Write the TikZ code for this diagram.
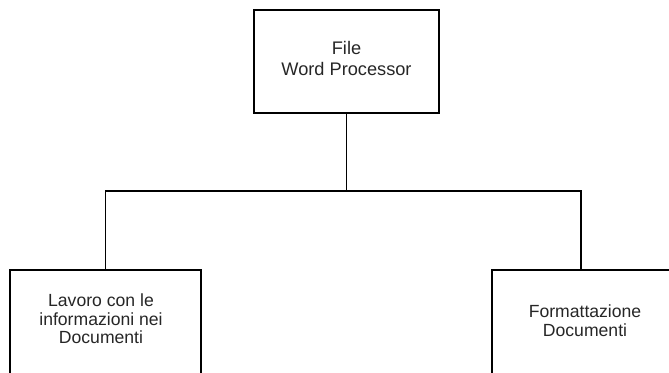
\documentclass[tikz,border=0pt]{standalone}
\usepackage{fontspec}
\setmainfont{Liberation Sans}
\begin{document}
\begin{tikzpicture}[x=1pt,y=-1pt,
  boxshape/.style={draw=black, line width=1.5pt, rectangle, inner sep=0pt},
  txt/.style={align=center, font=\fontsize{18.2}{21}\selectfont, text=black!85, inner sep=0pt},
  txtb/.style={align=center, font=\fontsize{17.6}{18.5}\selectfont, text=black!85, inner sep=0pt},
  conn/.style={draw=black, line width=1.5pt}]
\useasboundingbox (0,0) rectangle (669,372);
\node[boxshape, minimum width=185pt, minimum height=103pt] (top) at (346.5,61.5) {};
\node[txt] (toptext) at (346.5,58.5) {File\\Word Processor};
\node[boxshape, minimum width=191pt, minimum height=130pt] (left) at (105.5,335) {};
\node[txtb] (lefttext) at (101,319) {Lavoro con le\\informazioni nei\\Documenti};
\node[boxshape, minimum width=178pt, minimum height=130pt] (right) at (581,335) {};
\node[txtb] (righttext) at (585,320.5) {Formattazione\\Documenti};
\coordinate (jr) at (581,191);
\draw[conn] (top.south) -- (top.south |- jr);
\draw[conn] (left.north) |- (jr) -- (right.north);
\end{tikzpicture}
\end{document}
